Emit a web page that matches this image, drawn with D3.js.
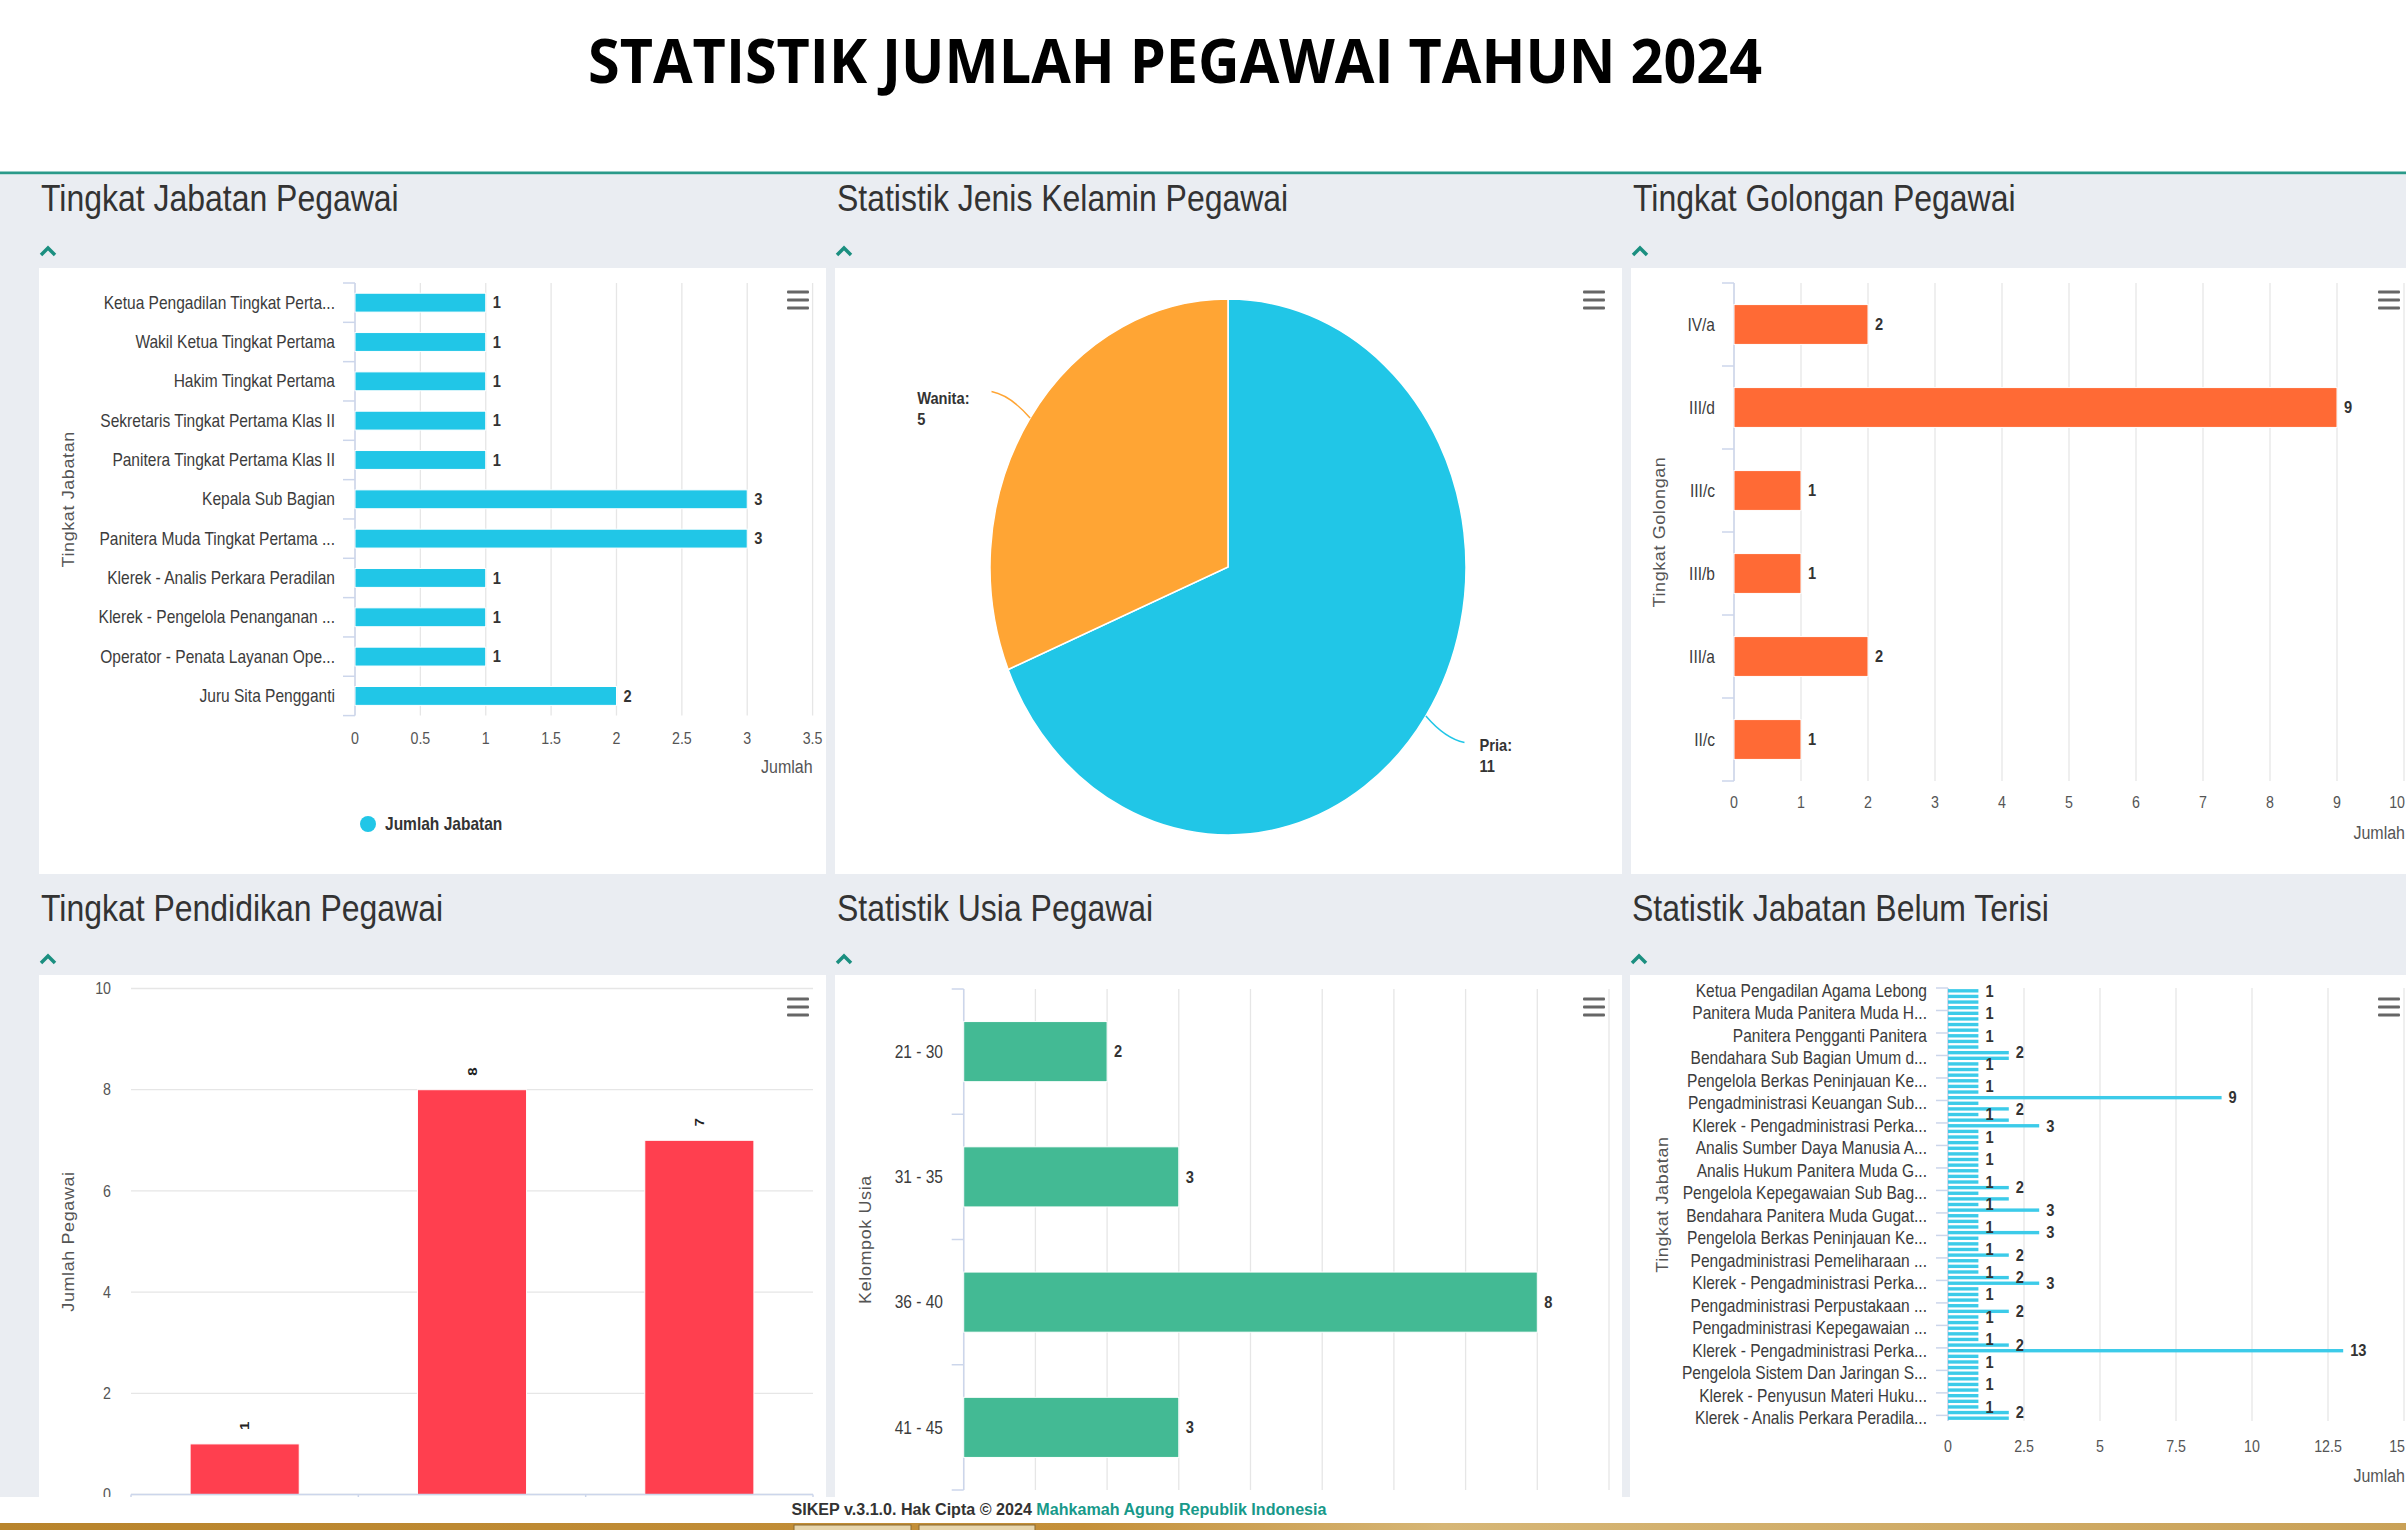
<!DOCTYPE html>
<html>
<head>
<meta charset="utf-8">
<script src="https://cdn.jsdelivr.net/npm/d3@7"></script>
<style>
  body { margin: 0; background: #fff; }
  svg { display: block; }
</style>
</head>
<body>
<div id="chart"></div>
<script>
// ---- data ----
const jabatanLabels = ["Ketua Pengadilan Tingkat Perta...", "Wakil Ketua Tingkat Pertama", "Hakim Tingkat Pertama",
    "Sekretaris Tingkat Pertama Klas II", "Panitera Tingkat Pertama Klas II", "Kepala Sub Bagian",
    "Panitera Muda Tingkat Pertama ...", "Klerek - Analis Perkara Peradilan", "Klerek - Pengelola Penanganan ...",
    "Operator - Penata Layanan Ope...", "Juru Sita Pengganti"];
const jabatanValues = [1, 1, 1, 1, 1, 3, 3, 1, 1, 1, 2];
const jabatanTicks = [0, 0.5, 1, 1.5, 2, 2.5, 3, 3.5];

const kelaminLabels = ["Pria", "Wanita"];
const kelaminValues = [11, 5];

const golonganLabels = ["IV/a", "III/d", "III/c", "III/b", "III/a", "II/c"];
const golonganValues = [2, 9, 1, 1, 2, 1];
const golonganTicks = [0, 1, 2, 3, 4, 5, 6, 7, 8, 9, 10];

// category names of this chart are cut off in the picture
const pendidikanValues = [1, 8, 7];
const pendidikanTicks = [0, 2, 4, 6, 8, 10];

const usiaLabels = ["21 - 30", "31 - 35", "36 - 40", "41 - 45"];
const usiaValues = [2, 3, 8, 3];
const usiaTicks = [0, 1, 2, 3, 4, 5, 6, 7, 8, 9];

// only every 4th category name is printed on the axis
const kosongLabels = ["Ketua Pengadilan Agama Lebong", "Panitera Muda Panitera Muda H...", "Panitera Pengganti Panitera",
    "Bendahara Sub Bagian Umum d...", "Pengelola Berkas Peninjauan Ke...", "Pengadministrasi Keuangan Sub...",
    "Klerek - Pengadministrasi Perka...", "Analis Sumber Daya Manusia A...", "Analis Hukum Panitera Muda G...",
    "Pengelola Kepegawaian Sub Bag...", "Bendahara Panitera Muda Gugat...", "Pengelola Berkas Peninjauan Ke...",
    "Pengadministrasi Pemeliharaan ...", "Klerek - Pengadministrasi Perka...", "Pengadministrasi Perpustakaan ...",
    "Pengadministrasi Kepegawaian ...", "Klerek - Pengadministrasi Perka...", "Pengelola Sistem Dan Jaringan S...",
    "Klerek - Penyusun Materi Huku...", "Klerek - Analis Perkara Peradila..."];
const kosongValues = [1, 1, 1, 1, 1, 1, 1, 1, 1, 1, 1,
    2, 2, 1, 1, 1, 1, 1, 1, 9, 1, 2,
    1, 2, 3, 1, 1, 1, 1, 1, 1, 1, 1,
    1, 1, 2, 1, 2, 1, 3, 1, 1, 1, 3,
    1, 1, 1, 2, 1, 1, 1, 2, 3, 1, 1,
    1, 1, 2, 1, 1, 1, 1, 1, 2, 13, 1,
    1, 1, 1, 1, 1, 1, 1, 1, 1, 2, 2];
const kosongTicks = [0, 2.5, 5, 7.5, 10, 12.5, 15];

const W = 2406, H = 1530;
const SX = 0.888; // the screenshot is squeezed horizontally
const FONT = "'Liberation Sans', Arial, sans-serif";

const svg = d3.select("#chart").append("svg").attr("width", W).attr("height", H);

function addText(parent, x, y, str, o = {}) {
    const t = parent.append("text")
        .attr("transform", `translate(${x},${y}) scale(${SX},1)` + (o.rotate ? ` rotate(${o.rotate})` : ""))
        .attr("font-family", o.family || FONT)
        .attr("font-size", o.size || 16)
        .attr("font-weight", o.weight || "normal")
        .attr("fill", o.fill || "#555")
        .attr("text-anchor", o.anchor || "start")
        .text(str);
    if (o.dy) t.attr("dy", o.dy);
    if (o.spacing) t.attr("letter-spacing", o.spacing);
    // keep texts inside the page
    if (o.clampRight) {
        const w = t.node().getComputedTextLength() * SX;
        const right = o.anchor === "middle" ? x + w / 2 : (o.anchor === "end" ? x : x + w);
        if (right > o.clampRight) {
            t.attr("transform", `translate(${x - (right - o.clampRight)},${y}) scale(${SX},1)`);
        }
    }
    return t;
}

function menuIcon(g, cx, cy) {
    [-8, 0, 8].forEach(d => {
        g.append("rect").attr("x", cx - 11).attr("y", cy + d - 1.6)
            .attr("width", 22).attr("height", 3.2).attr("rx", 1).attr("fill", "#666");
    });
}

function chevron(g, x, y) {
    g.append("path")
        .attr("d", `M${x + 1},${y + 8} L${x + 8},${y + 1} L${x + 15},${y + 8}`)
        .attr("fill", "none").attr("stroke", "#1b8f80").attr("stroke-width", 3.5);
}

// ---- page frame ----
svg.append("text")
    .attr("x", 588).attr("y", 83)
    .attr("font-family", "'Open Sans', sans-serif").attr("font-weight", "bold")
    .attr("font-size", 60).attr("fill", "#000")
    .attr("textLength", 1174).attr("lengthAdjust", "spacingAndGlyphs")
    .text("STATISTIK JUMLAH PEGAWAI TAHUN 2024");

svg.append("rect").attr("x", 0).attr("y", 171.5).attr("width", W).attr("height", 3).attr("fill", "#2a9a8a");
svg.append("rect").attr("x", 0).attr("y", 174.5).attr("width", W).attr("height", 1497 - 174.5).attr("fill", "#eaedf2");

const panels = [
    {x: 39, y: 268, w: 787, h: 606, title: "Tingkat Jabatan Pegawai", ty: 211, cy: 247},
    {x: 835, y: 268, w: 787, h: 606, title: "Statistik Jenis Kelamin Pegawai", ty: 211, cy: 247},
    {x: 1631, y: 268, w: 790, h: 606, title: "Tingkat Golongan Pegawai", ty: 211, cy: 247},
    {x: 39, y: 975, w: 787, h: 522, title: "Tingkat Pendidikan Pegawai", ty: 921, cy: 955},
    {x: 835, y: 975, w: 787, h: 522, title: "Statistik Usia Pegawai", ty: 921, cy: 955},
    {x: 1630, y: 975, w: 790, h: 522, title: "Statistik Jabatan Belum Terisi", ty: 921, cy: 955}
];
panels.forEach(p => {
    svg.append("rect").attr("x", p.x).attr("y", p.y).attr("width", p.w).attr("height", p.h).attr("fill", "#fff");
    addText(svg, p.x + 2, p.ty, p.title, {size: 36, fill: "#333"});
    chevron(svg, p.x + 1, p.cy);
    menuIcon(svg, Math.min(p.x + 759, 2389), p.y + 32);
});

// ---- horizontal bar charts ----
function drawHorizontalBars(cfg) {
    const g = svg.append("g");
    const n = cfg.values.length;
    const x = d3.scaleLinear().domain([0, cfg.max]).range([cfg.left, cfg.right]);
    const y = d3.scaleBand().domain(d3.range(n)).range([cfg.top, cfg.bottom])
        .paddingInner(cfg.pad).paddingOuter(cfg.pad / 2);
    const step = y.step();
    const every = cfg.labelStep || 1;

    g.selectAll("line.grid").data(cfg.ticks).join("line").attr("class", "grid")
        .attr("x1", d => x(d)).attr("x2", d => x(d))
        .attr("y1", cfg.top).attr("y2", cfg.bottom)
        .attr("stroke", "#e6e6e6").attr("stroke-width", 1.3);

    g.append("line").attr("x1", cfg.left).attr("x2", cfg.left)
        .attr("y1", cfg.top).attr("y2", cfg.bottom)
        .attr("stroke", "#ccd6eb").attr("stroke-width", 1.5);

    const tickPos = every === 1 ? d3.range(0, n + 1) : d3.range(0, n, every);
    g.selectAll("line.tick").data(tickPos).join("line").attr("class", "tick")
        .attr("x1", cfg.left - 12).attr("x2", cfg.left)
        .attr("y1", d => cfg.top + d * step).attr("y2", d => cfg.top + d * step)
        .attr("stroke", "#ccd6eb").attr("stroke-width", 1.5);

    g.selectAll("rect.bar").data(cfg.values).join("rect").attr("class", "bar")
        .attr("x", cfg.left)
        .attr("y", (d, i) => y(i))
        .attr("width", d => x(d) - cfg.left)
        .attr("height", y.bandwidth())
        .attr("fill", cfg.color)
        .attr("stroke", cfg.thin ? "none" : "#fff").attr("stroke-width", 1);

    cfg.labels.forEach((lab, k) => {
        const i = k * every;
        addText(g, cfg.labelX, y(i) + y.bandwidth() / 2, lab,
            {anchor: "end", dy: "0.35em", size: 17.5, fill: "#3c3c3c"});
    });

    // data labels, hide overlapping ones (bigger values first)
    const placed = [];
    const order = d3.range(n).sort((a, b) => d3.descending(cfg.values[a], cfg.values[b]) || a - b);
    order.forEach(i => {
        const v = cfg.values[i];
        const tx = x(v) + 7, ty = y(i) + y.bandwidth() / 2;
        const w = String(v).length * 9 * SX;
        const box = {x0: tx - 2, x1: tx + w + 2, y0: ty - 11, y1: ty + 11};
        if (placed.some(b => b.x0 < box.x1 && box.x0 < b.x1 && b.y0 < box.y1 && box.y0 < b.y1)) return;
        placed.push(box);
        addText(g, tx, ty, v, {dy: "0.35em", size: 16.5, weight: "bold", fill: "#333"});
    });

    if (cfg.tickY) {
        cfg.ticks.forEach(t => addText(g, x(t), cfg.tickY, t,
            {anchor: "middle", dy: "0.35em", size: 16, fill: "#555", clampRight: W - 1}));
    }
    if (cfg.jumlahY) {
        addText(g, cfg.jumlahRight || cfg.right, cfg.jumlahY, "Jumlah",
            {anchor: "end", dy: "0.35em", size: 18, fill: "#555"});
    }
    addText(g, cfg.titleX, (cfg.top + cfg.bottom) / 2, cfg.title,
        {anchor: "middle", rotate: -90, dy: "0.35em", size: 18, fill: "#555", spacing: 0.6});
    return {x, y};
}

drawHorizontalBars({
    values: jabatanValues, labels: jabatanLabels, ticks: jabatanTicks, max: 3.5,
    left: 355, right: 812.6, top: 283, bottom: 715.6, pad: 0.52,
    color: "#21c6e7", labelX: 335, titleX: 68, title: "Tingkat Jabatan",
    tickY: 738, jumlahY: 767
});
// legend
svg.append("circle").attr("cx", 368).attr("cy", 824).attr("r", 8).attr("fill", "#21c6e7");
addText(svg, 385, 824, "Jumlah Jabatan", {dy: "0.35em", size: 17.5, weight: "bold", fill: "#333"});

drawHorizontalBars({
    values: golonganValues, labels: golonganLabels, ticks: golonganTicks, max: 10,
    left: 1734, right: 2404, top: 283, bottom: 781, pad: 0.52,
    color: "#ff6a35", labelX: 1715, titleX: 1659, title: "Tingkat Golongan",
    tickY: 802, jumlahY: 833, jumlahRight: 2405
});

drawHorizontalBars({
    values: usiaValues, labels: usiaLabels, ticks: usiaTicks, max: 9,
    left: 963.7, right: 1609, top: 989, bottom: 1490, pad: 0.52,
    color: "#43ba94", labelX: 943, titleX: 865, title: "Kelompok Usia"
});

drawHorizontalBars({
    values: kosongValues, labels: kosongLabels, ticks: kosongTicks, max: 15, labelStep: 4,
    left: 1948, right: 2404, top: 988, bottom: 1421, pad: 0.4, thin: true,
    color: "#3ccbe9", labelX: 1927, titleX: 1662, title: "Tingkat Jabatan",
    tickY: 1446, jumlahY: 1476, jumlahRight: 2405
});

// ---- pie ----
(function () {
    const g = svg.append("g");
    const cx = 1228, cy = 567, r = 238, ky = 268 / 238;
    const colors = ["#21c6e7", "#ffa534"];
    const arcs = d3.pie().sort(null).value(d => d)(kelaminValues);
    const arc = d3.arc().innerRadius(0).outerRadius(r);
    g.append("g").attr("transform", `translate(${cx},${cy}) scale(1,${ky})`)
        .selectAll("path").data(arcs).join("path")
        .attr("d", arc).attr("fill", (d, i) => colors[i])
        .attr("stroke", "#fff").attr("stroke-width", 1.5);

    arcs.forEach((d, i) => {
        const mid = (d.startAngle + d.endAngle) / 2;
        const ex = cx + r * Math.sin(mid), ey = cy - r * ky * Math.cos(mid);
        const ox = cx + r * 1.195 * Math.sin(mid), oy = cy - r * ky * 1.178 * Math.cos(mid);
        const p = d3.path();
        p.moveTo(ex, ey);
        p.quadraticCurveTo(ox + (ex - ox) * 0.5, oy + (ey - oy) * 0.15, ox, oy);
        g.append("path").attr("d", p.toString()).attr("fill", "none")
            .attr("stroke", colors[i]).attr("stroke-width", 1.5);
        const left = Math.sin(mid) < 0;
        const l1 = addText(g, 0, 0, kelaminLabels[i] + ":", {size: 16.5, weight: "bold", fill: "#333"});
        const l2 = addText(g, 0, 0, d.data, {size: 16.5, weight: "bold", fill: "#333"});
        const wMax = Math.max(l1.node().getComputedTextLength(), l2.node().getComputedTextLength()) * SX;
        const lx = left ? ox - 22 - wMax : ox + 15;
        const ly = oy + (left ? 12 : 9);
        l1.attr("transform", `translate(${lx},${ly}) scale(${SX},1)`);
        l2.attr("transform", `translate(${lx},${ly + 21}) scale(${SX},1)`);
    });
})();

// ---- column chart ----
(function () {
    const g = svg.append("g");
    const left = 131, right = 813, top = 988.5, bottom = 1494.5;
    const x = d3.scaleBand().domain(d3.range(pendidikanValues.length)).range([left, right])
        .paddingInner(0.52).paddingOuter(0.26);
    const y = d3.scaleLinear().domain([0, 10]).range([bottom, top]);

    g.selectAll("line.grid").data(pendidikanTicks).join("line")
        .attr("x1", left).attr("x2", right)
        .attr("y1", d => y(d)).attr("y2", d => y(d))
        .attr("stroke", "#e6e6e6").attr("stroke-width", 1.3);
    pendidikanTicks.forEach(t => addText(g, 111, y(t), t, {anchor: "end", dy: "0.35em", size: 16, fill: "#555"}));

    g.selectAll("rect").data(pendidikanValues).join("rect")
        .attr("x", (d, i) => x(i)).attr("y", d => y(d))
        .attr("width", x.bandwidth()).attr("height", d => bottom - y(d))
        .attr("fill", "#ff3f4f").attr("stroke", "#fff").attr("stroke-width", 1);

    g.append("line").attr("x1", left).attr("x2", right).attr("y1", bottom).attr("y2", bottom)
        .attr("stroke", "#ccd6eb").attr("stroke-width", 1.5);
    d3.range(pendidikanValues.length + 1).forEach(i => {
        const bx = left + i * x.step();
        g.append("line").attr("x1", bx).attr("x2", bx).attr("y1", bottom).attr("y2", bottom + 10)
            .attr("stroke", "#ccd6eb").attr("stroke-width", 1.5);
    });

    pendidikanValues.forEach((v, i) => {
        addText(g, x(i) + x.bandwidth() / 2, y(v) - 18, v,
            {anchor: "middle", rotate: -90, dy: "0.35em", size: 15, weight: "bold", fill: "#222"});
    });
    addText(g, 68, (top + bottom) / 2, "Jumlah Pegawai",
        {anchor: "middle", rotate: -90, dy: "0.35em", size: 18, fill: "#555", spacing: 0.6});
})();

// ---- footer ----
svg.append("rect").attr("x", 0).attr("y", 1497).attr("width", W).attr("height", 26).attr("fill", "#fff");
const ft = svg.append("text").attr("x", 791.5).attr("y", 1515)
    .attr("font-family", FONT).attr("font-weight", "bold").attr("font-size", 16)
    .attr("textLength", 535).attr("lengthAdjust", "spacingAndGlyphs");
ft.append("tspan").attr("fill", "#333").text("SIKEP v.3.1.0. Hak Cipta © 2024 ");
ft.append("tspan").attr("fill", "#17998a").text("Mahkamah Agung Republik Indonesia");

const grad = svg.append("defs").append("linearGradient").attr("id", "gold");
[["0%", "#b8842c"], ["45%", "#c4903a"], ["60%", "#d6b676"], ["100%", "#c9a157"]]
    .forEach(s => grad.append("stop").attr("offset", s[0]).attr("stop-color", s[1]));
svg.append("rect").attr("x", 0).attr("y", 1523).attr("width", W).attr("height", 7).attr("fill", "url(#gold)");
[[794, 911], [919, 1035]].forEach(b => {
    svg.append("rect").attr("x", b[0]).attr("y", 1525).attr("width", b[1] - b[0]).attr("height", 6)
        .attr("fill", "#e6d5ad").attr("stroke", "#8a6a30").attr("stroke-width", 1);
});
</script>
</body>
</html>
